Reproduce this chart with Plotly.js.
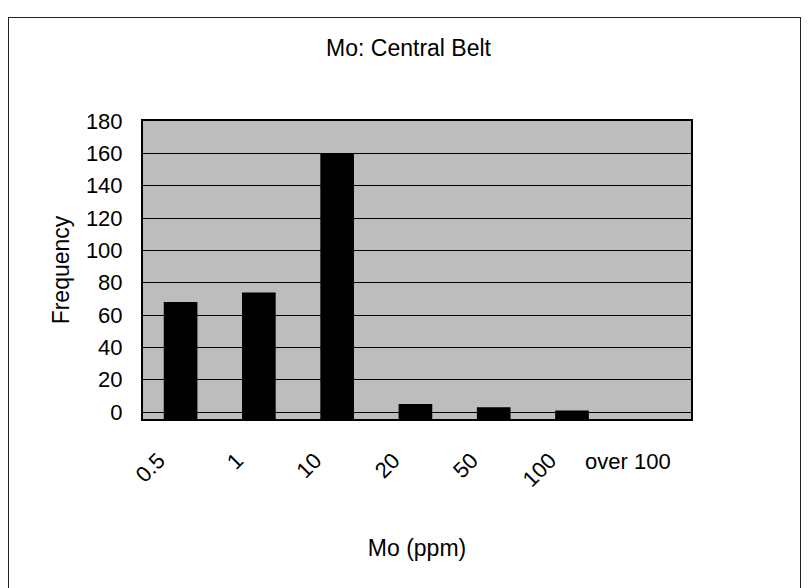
<!DOCTYPE html>
<html>
<head>
<meta charset="utf-8">
<script src="https://cdn.plot.ly/plotly-3.0.1.min.js"></script>
<style>
  html, body { margin: 0; padding: 0; background: #ffffff; }
  #frame { position: absolute; left: 8px; top: 17px; width: 791px; height: 580px; border: 1px solid #222; }
  #chart { position: absolute; left: 0; top: 0; width: 809px; height: 588px; }
</style>
</head>
<body>
<div id="frame"></div>
<div id="chart"></div>
<script>
// Data
const categories = ["0.5", "1", "10", "20", "50", "100", "over 100"];
const frequency  = [68, 74, 160, 5, 3, 1, 0];
const yTicks     = [0, 20, 40, 60, 80, 100, 120, 140, 160, 180];

const FONT = "Liberation Sans, Arial, sans-serif";
const Y_MIN = -4.3;            // axis floor slightly below zero, as in the original
const idx = categories.map((c, i) => i);
const last = categories.length - 1;

const trace = {
  type: "bar",
  x: idx,
  y: frequency.map(v => v > 0 ? v - Y_MIN : 0),   // bar length measured from the floor
  base: Y_MIN,
  width: 0.43,
  marker: { color: "#000000", line: { width: 0 } },
  customdata: frequency,
  hoverinfo: "skip"
};

const layout = {
  width: 809,
  height: 588,
  margin: { l: 143, r: 118, t: 121, b: 169 },
  paper_bgcolor: "rgba(0,0,0,0)",
  plot_bgcolor: "#bdbdbd",
  showlegend: false,
  font: { family: FONT, color: "#000", size: 22 },
  title: {
    text: "Mo: Central Belt",
    font: { family: FONT, size: 23, color: "#000" },
    xref: "container", x: 0.505, xanchor: "center",
    yref: "container", y: 1 - 48 / 588, yanchor: "middle"
  },
  xaxis: {
    type: "linear",
    range: [-0.48, 6.52],
    tickmode: "array",
    tickvals: idx,
    ticktext: categories.map((c, i) => i === last ? "" : c),
    tickangle: -45,
    ticks: "",
    ticklabelshift: -22,
    ticklabelstandoff: 18,
    showgrid: false,
    zeroline: false,
    showline: true, mirror: true, linecolor: "#000", linewidth: 2,
    tickfont: { family: FONT, size: 22, color: "#000" },
    title: { text: "Mo (ppm)", font: { family: FONT, size: 23, color: "#000" }, standoff: 49 },
    fixedrange: true
  },
  yaxis: {
    range: [Y_MIN, 180],
    tickmode: "array",
    tickvals: yTicks,
    ticktext: yTicks.map(String),
    ticks: "",
    ticklabelstandoff: 14,
    showgrid: true, gridcolor: "#000", gridwidth: 1,
    zeroline: false,
    showline: true, mirror: true, linecolor: "#000", linewidth: 2,
    tickfont: { family: FONT, size: 22, color: "#000" },
    title: { text: "Frequency", font: { family: FONT, size: 23, color: "#000" }, standoff: 10 },
    fixedrange: true
  },
  annotations: [{
    xref: "x", yref: "paper",
    x: last, y: 0,
    text: categories[last],
    showarrow: false,
    xanchor: "center", yanchor: "middle",
    xshift: -22, yshift: -42,
    font: { family: FONT, size: 22, color: "#000" }
  }]
};

Plotly.newPlot("chart", [trace], layout, { displayModeBar: false, staticPlot: true });
</script>
</body>
</html>
